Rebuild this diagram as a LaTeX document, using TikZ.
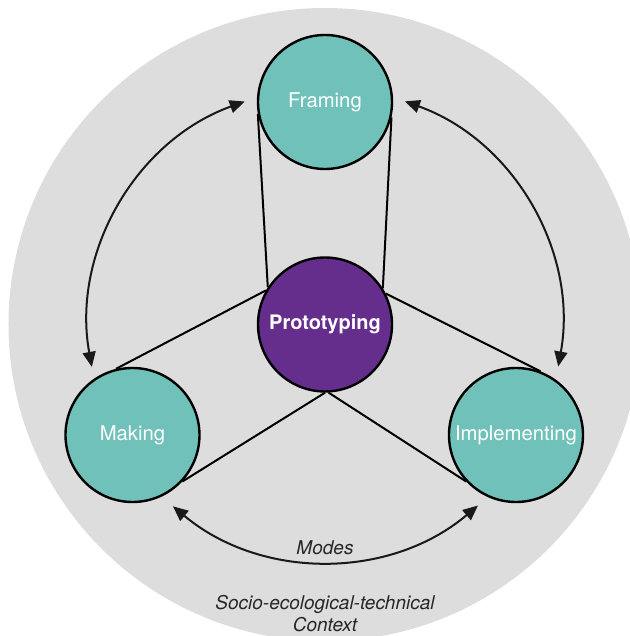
\documentclass[tikz,border=0pt]{standalone}
\usepackage{fontspec}
\setmainfont{TeX Gyre Heros}
\usetikzlibrary{arrows.meta}
\definecolor{teal1}{RGB}{112,193,185}
\definecolor{purp}{RGB}{101,45,140}
\definecolor{bggray}{RGB}{221,221,221}
\begin{document}
\begin{tikzpicture}[x=1pt,y=1pt,
  mode/.style={circle,draw=black,line width=2.4pt,fill=teal1,minimum size=134pt,inner sep=0pt,text=white,font=\fontsize{20.3}{24}\selectfont},
  core/.style={circle,draw=black,line width=2.4pt,fill=purp,minimum size=134pt,inner sep=0pt,text=white,font=\fontsize{20}{24}\selectfont\bfseries},
  link/.style={line width=2pt,black},
  cyc/.style={line width=2pt,black!90,{Triangle[length=15pt,width=13pt]}-{Triangle[length=15pt,width=13pt]}},
  lbl/.style={font=\fontsize{19}{22}\selectfont\itshape,text=black!85}]
\useasboundingbox (-325,-311.5) rectangle (304,324.5);
\fill[bggray] (0,0) circle[radius=316.5];
% arcs
\coordinate (la) at (109.8:237);
\coordinate (ra) at (70.3:237);
\coordinate (ba) at (230.1:237);
\draw[cyc] (la) arc[start angle=109.8, end angle=190.3, radius=237];
\draw[cyc] (ra) arc[start angle=70.3, end angle=-10.2, radius=237];
\draw[cyc] (ba) arc[start angle=230.1, end angle=310.2, radius=237];
% nodes
\node[core] (pr) at (0,0) {Prototyping};
\node[mode] (fr) at (0,222.5) {Framing};
\node[mode] (mk) at (-192.5,-110.5) {Making};
\node[mode] (im) at (191,-110.5) {Implementing};
% links
\draw[link] (fr.190) -- (pr.147);
\draw[link] (fr.-13) -- (pr.32);
\draw[link] (mk.104) -- (pr.150);
\draw[link] (mk.-43.7) -- (pr.-90);
\draw[link] (pr.27.5) -- (im.69);
\draw[link] (pr.-87) -- (im.-137);
% labels
\node[lbl] (md) at (0,-223.5) {Modes};
\node[lbl,align=center] (ctx) at (0,-289.5) {Socio-ecological-technical\\Context};
\end{tikzpicture}
\end{document}
